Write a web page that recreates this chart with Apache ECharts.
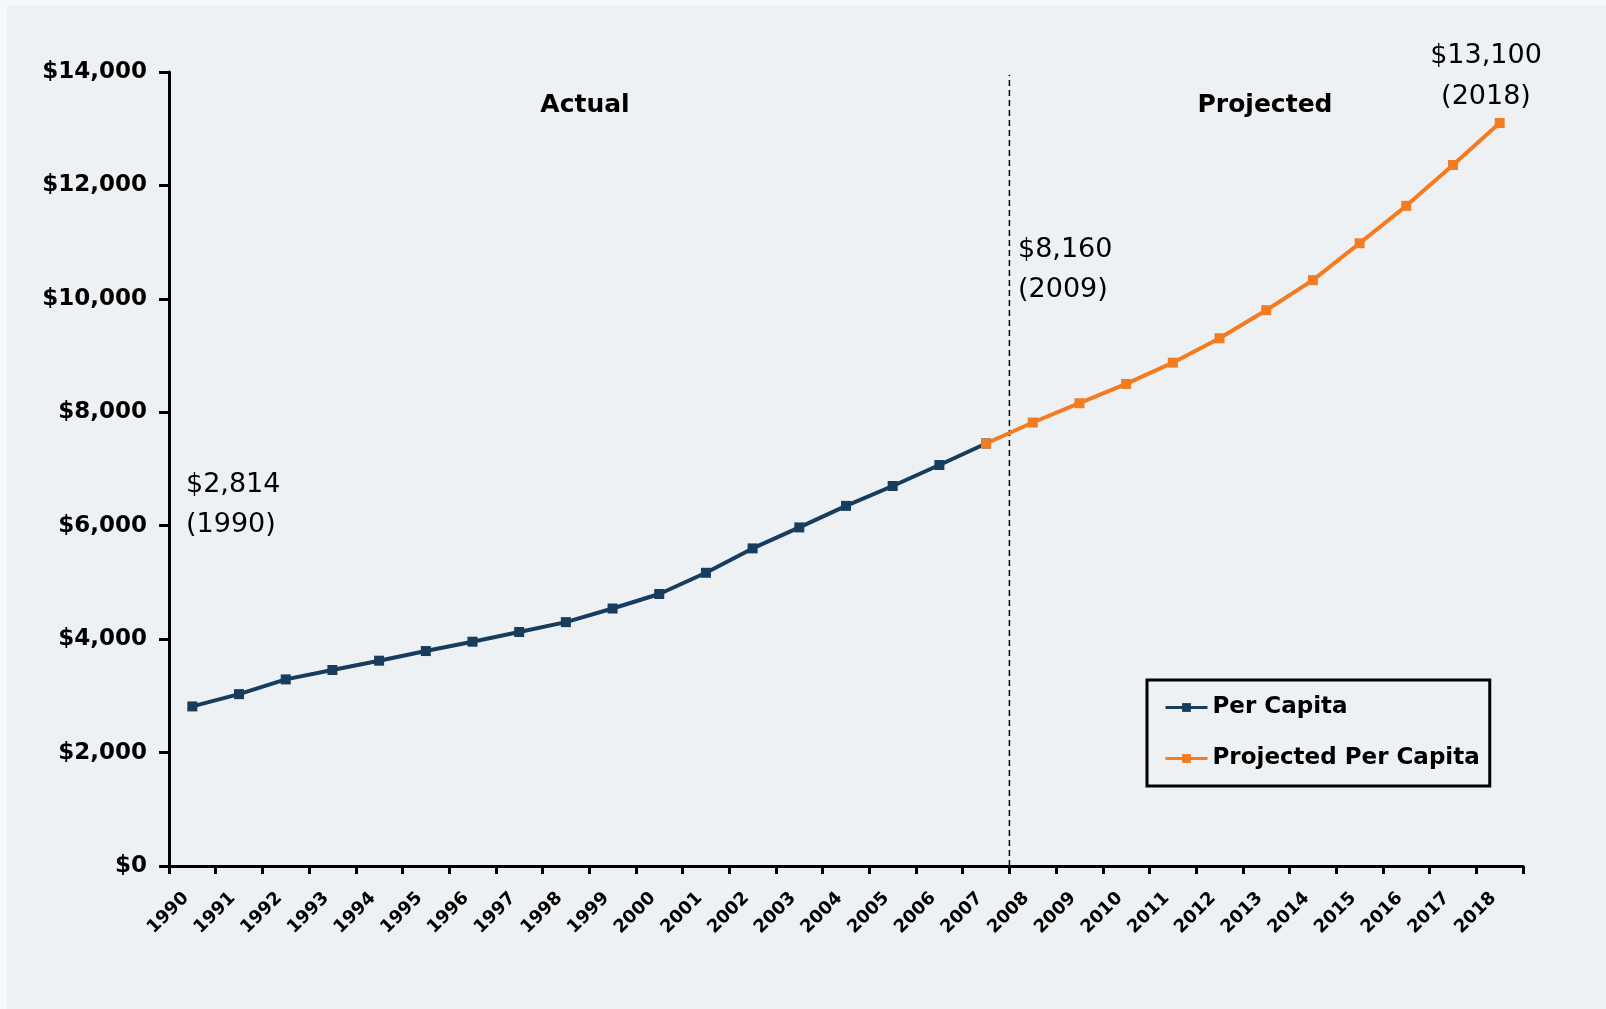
<!DOCTYPE html>
<html>
<head>
<meta charset="utf-8">
<script src="https://cdn.jsdelivr.net/npm/echarts@6/dist/echarts.min.js"></script>
<style>
html,body{margin:0;padding:0;background:#eef1f4;}
#chart{width:1606px;height:1009px;}
</style>
</head>
<body>
<div id="chart"></div>
<script>
const years = ['1990','1991','1992','1993','1994','1995','1996','1997','1998','1999','2000','2001','2002','2003','2004','2005','2006','2007','2008','2009','2010','2011','2012','2013','2014','2015','2016','2017','2018'];
const perCapita = [2814,3030,3290,3456,3620,3790,3955,4126,4300,4540,4796,5170,5600,5970,6350,6700,7070,7450,null,null,null,null,null,null,null,null,null,null,null];
const projected = [null,null,null,null,null,null,null,null,null,null,null,null,null,null,null,null,null,7450,7820,8160,8500,8875,9305,9800,10330,10980,11640,12360,13100];
const yTicks = {min:0, max:14000, interval:2000};
const dividerLine = [[18,0],[18,13950]];

const FONT = 'DejaVu Sans';
const chart = echarts.init(document.getElementById('chart'), null, {renderer:'canvas'});
const fmt = v => '$' + v.toLocaleString('en-US');

chart.setOption({
  backgroundColor:'#eef1f4',
  animation:false,
  grid:{left:169, right:83, top:72, bottom:143, containLabel:false},
  legend:{
    data:['Per Capita','Projected Per Capita'],
    orient:'vertical',
    left:1147, top:680,
    padding:[13,10,13,17],
    borderColor:'#000', borderWidth:3,
    itemWidth:42, itemHeight:11, itemGap:22,
    lineStyle:{width:3},
    textStyle:{fontFamily:FONT, fontWeight:'bold', fontSize:23, color:'#000', lineHeight:29}
  },
  xAxis:[{
    type:'category', data:years, boundaryGap:true,
    axisLine:{lineStyle:{color:'#000', width:3}},
    axisTick:{show:true, interval:0, length:8, lineStyle:{color:'#000', width:3}},
    axisLabel:{interval:0, rotate:45, margin:23, padding:[0,9,0,0], fontFamily:FONT, fontWeight:'bold', fontSize:18, color:'#000'},
    splitLine:{show:false}
  },{
    type:'value', min:0, max:years.length, show:false
  }],
  yAxis:{
    type:'value', min:yTicks.min, max:yTicks.max, interval:yTicks.interval,
    axisLine:{show:true, lineStyle:{color:'#000', width:3}},
    axisTick:{show:true, length:10, lineStyle:{color:'#000', width:3}},
    axisLabel:{formatter:fmt, margin:22, fontFamily:FONT, fontWeight:'bold', fontSize:23, color:'#000'},
    splitLine:{show:false}
  },
  series:[{
    name:'divider', type:'line', xAxisIndex:1, data:dividerLine,
    symbol:'none', silent:true,
    lineStyle:{color:'#000', width:1.5, type:[6,4]}, z:1
  },{
    name:'Per Capita', type:'line', data:perCapita,
    symbol:'rect', symbolSize:10, showSymbol:true,
    lineStyle:{color:'#163c5e', width:4},
    itemStyle:{color:'#163c5e'}, z:3
  },{
    name:'Projected Per Capita', type:'line', data:projected,
    symbol:'rect', symbolSize:10, showSymbol:true,
    lineStyle:{color:'#f47b20', width:4},
    itemStyle:{color:'#f47b20'}, z:4
  }],
  graphic:[
    {type:'rect', shape:{x:0,y:0,width:1606,height:5}, style:{fill:'#f6f8fa'}, silent:true, z:-10},
    {type:'rect', shape:{x:0,y:0,width:7,height:1009}, style:{fill:'#f6f8fa'}, silent:true, z:-10},
    {type:'text', x:585, y:105, style:{text:'Actual', fontFamily:FONT, fontWeight:'bold', fontSize:25, fill:'#000', align:'center', verticalAlign:'middle'}},
    {type:'text', x:1265, y:105, style:{text:'Projected', fontFamily:FONT, fontWeight:'bold', fontSize:25, fill:'#000', align:'center', verticalAlign:'middle'}},
    {type:'text', x:186, y:505, style:{text:'$2,814\n(1990)', fontFamily:FONT, fontSize:27, lineHeight:40, fill:'#000', align:'left', verticalAlign:'middle'}},
    {type:'text', x:1018, y:270, style:{text:'$8,160\n(2009)', fontFamily:FONT, fontSize:27, lineHeight:40, fill:'#000', align:'left', verticalAlign:'middle'}},
    {type:'text', x:1486, y:76, style:{text:'$13,100\n(2018)', fontFamily:FONT, fontSize:27, lineHeight:41, fill:'#000', align:'center', verticalAlign:'middle'}}
  ]
});
</script>
</body>
</html>
